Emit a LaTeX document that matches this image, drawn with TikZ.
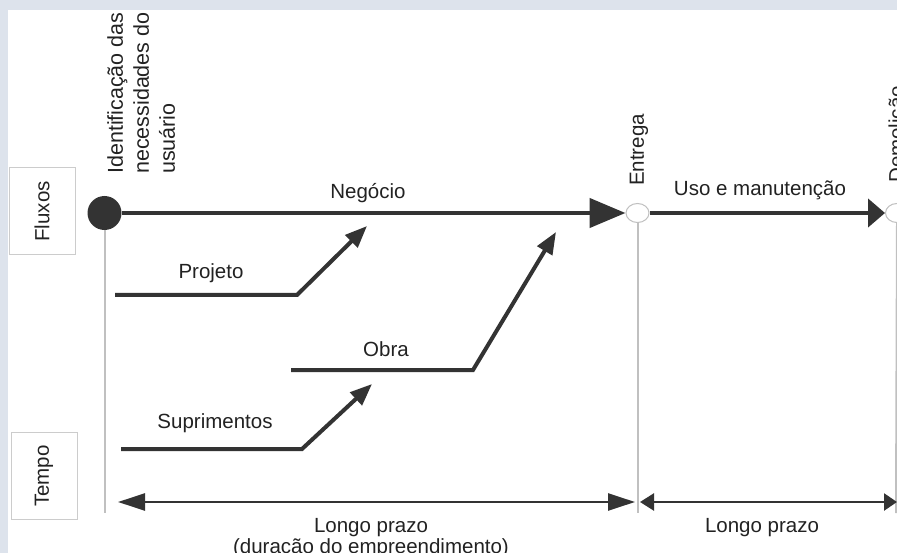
\documentclass[tikz,border=0pt]{standalone}
\usepackage{fontspec}
\setmainfont{Liberation Sans}
\usetikzlibrary{arrows.meta,shapes.geometric}
\definecolor{frame}{RGB}{221,227,236}
\definecolor{ink}{RGB}{51,51,51}
\definecolor{txt}{RGB}{34,34,34}
\definecolor{rule}{RGB}{192,192,192}
\definecolor{boxline}{RGB}{204,204,204}
\begin{document}
\begin{tikzpicture}[x=1pt,y=-1pt,
  every node/.style={font=\fontsize{20.5}{24}\selectfont, text=txt, inner sep=0pt},
  sidebox/.style={draw=boxline, line width=1pt, fill=white, rotate=90,
    minimum width=87pt, minimum height=66pt},
  milestone/.style={ellipse, draw=rule, line width=1pt, fill=white,
    minimum width=23pt, minimum height=19pt},
  mainflow/.style={draw=ink, line width=4.5pt},
  branch/.style={draw=ink, line width=4pt,
    -{Triangle[length=22pt,width=17pt]}},
  timeline/.style={draw=rule, line width=2pt},
  span/.style={draw=ink, line width=2.5pt},
  vlabel/.style={rotate=90, anchor=west}]
\useasboundingbox (0,0) rectangle (897,553);
\clip (0,0) rectangle (897,553);
% frame and white panel
\fill[frame] (0,0) rectangle (897,553);
\fill[white] (8,10) rectangle (897,553);

% side boxes
\node[sidebox] (fluxos) at (42,211.5) {Fluxos};
\node[sidebox] (tempo) at (44,476) {Tempo};

% milestones
\node[circle, fill=ink, minimum size=34pt] (inicio) at (104.5,213) {};
\node[milestone] (entrega) at (637.5,213) {};
\node[milestone] (demol) at (897,213) {};

% vertical time rules
\coordinate (inicio-bot) at (104.5,513);
\coordinate (entrega-bot) at (637.5,513);
\coordinate (demol-bot) at (896,513);
\draw[timeline] (inicio.south) -- (inicio-bot);
\draw[timeline] (entrega.south) -- (entrega-bot);
\draw[timeline] (demol.south) -- (demol-bot);

% main flows
\draw[mainflow, -{Triangle[length=36pt,width=29pt]}] (inicio.east) -- (entrega.west);
\draw[mainflow, -{Triangle[length=17pt,width=28pt]}] (entrega.east) -- (demol.west);
\node (negocio) at (368,193) {Negócio};
\node (uso) at (760,190) {Uso e manutenção};

% milestone labels
\node[rotate=90, anchor=north west, align=left,
  font=\fontsize{21.5}{26}\selectfont] (ident) at (107,174)
  {Identificação das\\necessidades do\\usuário};
\node[vlabel] (entrega-lbl) at (639,186) {Entrega};
\node[vlabel] (demol-lbl) at (898,183) {Demolição};

% feeding flows
\coordinate (p0) at (115,295);
\coordinate (p1) at (297,295);
\coordinate (p2) at (367,226);
\draw[branch] (p0) -- (p1) -- (p2);
\node (projeto) at (211,273) {Projeto};

\coordinate (o0) at (291,370);
\coordinate (o1) at (473,370);
\coordinate (o2) at (556,232);
\draw[branch] (o0) -- (o1) -- (o2);
\node (obra) at (386,349) {Obra};

\coordinate (s0) at (121,449);
\coordinate (s1) at (302,449);
\coordinate (s2) at (372,384);
\draw[branch] (s0) -- (s1) -- (s2);
\node (supr) at (215,423) {Suprimentos};

% durations
\coordinate (d0) at (118,502);
\coordinate (d1) at (635,502);
\coordinate (d2) at (640,502);
\coordinate (d3) at (897,502);
\draw[span, {Triangle[length=27pt,width=17pt]}-{Triangle[length=27pt,width=17pt]}] (d0) -- (d1);
\draw[span, {Triangle[length=14pt,width=17pt]}-{Triangle[length=13pt,width=17pt]}] (d2) -- (d3);
\node[anchor=base] (lp1) at (371,532) {Longo prazo};
\node[anchor=base] (lp1b) at (371,553) {(duração do empreendimento)};
\node[anchor=base] (lp2) at (762,532) {Longo prazo};
\end{tikzpicture}
\end{document}
